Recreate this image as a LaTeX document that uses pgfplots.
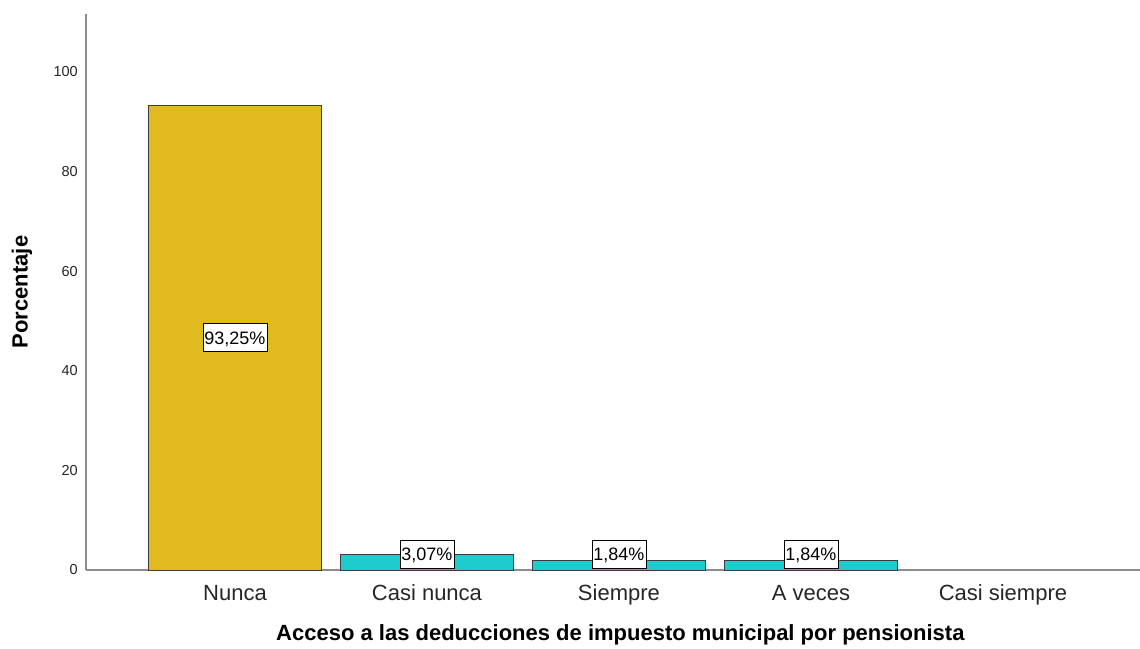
\documentclass[border=0pt]{standalone}
\usepackage{fontspec}
\setmainfont{Liberation Sans}
\usepackage{pgfplots}
\pgfplotsset{compat=1.18}
\definecolor{gold}{RGB}{224,186,30}
\definecolor{teal2}{RGB}{29,205,205}
\definecolor{axgray}{RGB}{140,140,140}
\definecolor{barline}{RGB}{60,60,60}
\begin{document}
\begin{tikzpicture}
\begin{axis}[
  scale only axis,
  width=1054pt, height=556pt,
  at={(0,0)}, anchor=south west,
  xmin=-0.776, xmax=4.714,
  ymin=0, ymax=111.6,
  axis x line*=bottom, axis y line*=left,
  axis line style={axgray, line width=1.3pt, -},
  major tick length=0pt,
  xtick={0,1,2,3,4},
  xticklabels={Nunca,Casi nunca,Siempre,A veces,Casi siempre},
  ytick={0,20,40,60,80,100},
  /pgf/number format/assume math mode=true,
  xticklabel style={font=\fontsize{22}{26}\selectfont, color=black!85, anchor=base, yshift=-30pt},
  yticklabel style={font=\fontsize{14.5}{17}\selectfont, color=black!85, anchor=east, inner sep=0pt, xshift=-8pt},
  xlabel={Acceso a las deducciones de impuesto municipal por pensionista},
  ylabel={Porcentaje},
  every axis x label/.style={at={(axis description cs:0.507,0)}, anchor=center, yshift=-65pt, font=\bfseries\fontsize{22}{26}\selectfont},
  every axis y label/.style={at={(axis description cs:-0.0607,0.5)}, rotate=90, anchor=center, font=\bfseries\fontsize{22}{26}\selectfont},
  clip=false,
]
\addplot[ybar, bar shift=0pt, bar width=0.9, fill=gold, draw=barline, line width=1pt]
  coordinates {(0,93.25)};
\addplot[ybar, bar shift=0pt, bar width=0.9, fill=teal2, draw=barline, line width=1pt]
  coordinates {(1,3.07) (2,1.84) (3,1.84)};
\addplot[draw=none, mark=none, only marks, nodes near coords, point meta=explicit symbolic,
  nodes near coords style={anchor=center, fill=white, draw=black, line width=0.8pt,
    inner xsep=1.5pt, inner ysep=0pt, minimum height=28pt, text depth=0pt,
    font=\fontsize{18}{20}\selectfont, text=black}]
  table[meta=label] {
x y label
0 46.6 93,25\%
1 3.2 3,07\%
2 3.2 1,84\%
3 3.2 1,84\%
};
\end{axis}
\pgfresetboundingbox
\path (-86pt,-78pt) rectangle (1054pt,570pt);
\end{tikzpicture}
\end{document}
